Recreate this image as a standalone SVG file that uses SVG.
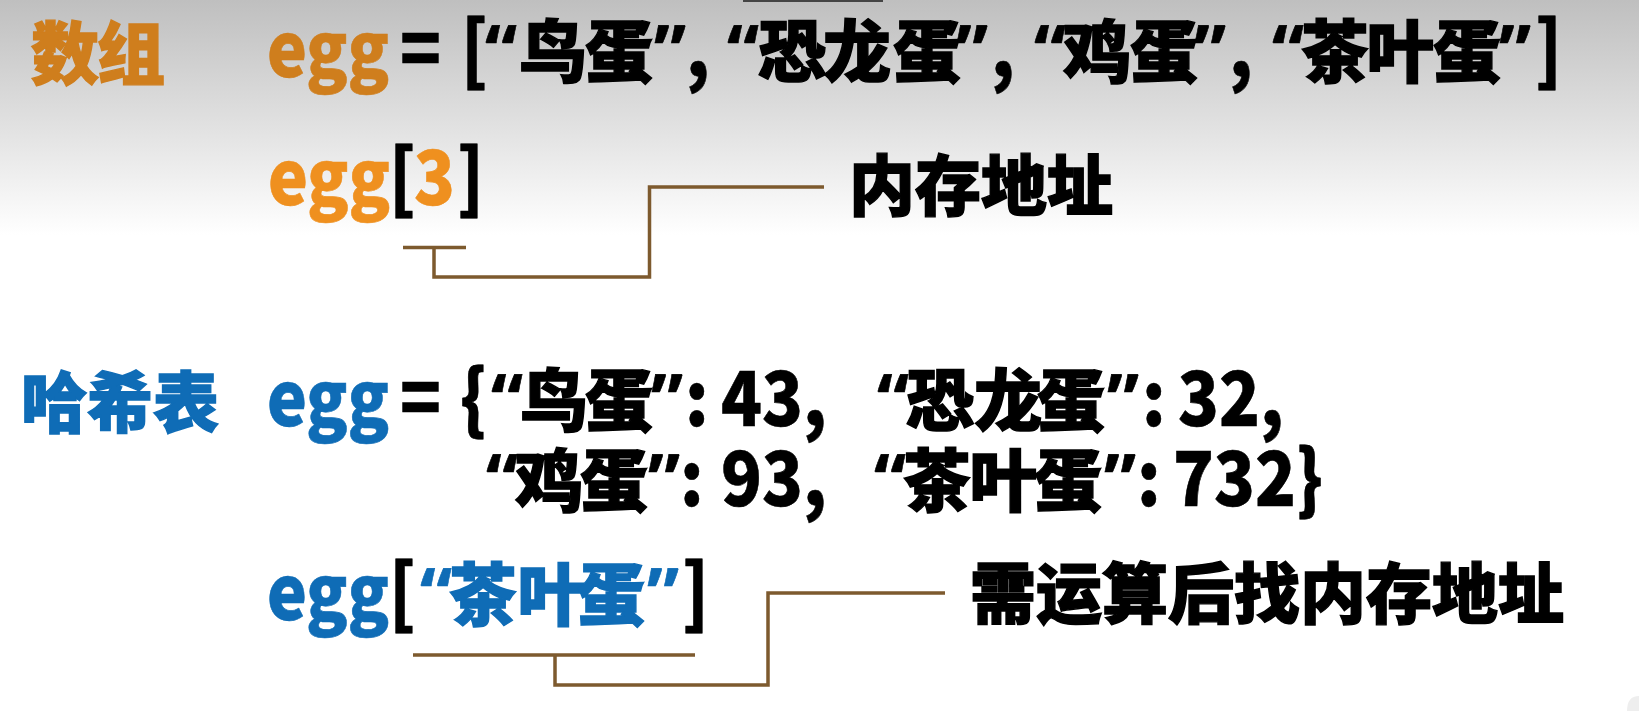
<svg xmlns="http://www.w3.org/2000/svg" width="1639" height="711" viewBox="0 0 1639 711">
<defs>
<linearGradient id="bg" x1="0" y1="0" x2="0" y2="1">
<stop offset="0" stop-color="#bfbfbf"/>
<stop offset="0.55" stop-color="#e2e2e2"/>
<stop offset="1" stop-color="#ffffff"/>
</linearGradient>
<style>
text{font-family:"Noto Sans CJK SC","Liberation Sans",sans-serif;font-weight:900}
.cn{font-size:68px;stroke-width:1.4}
.nt{font-size:66px;stroke-width:1.4}
.lt{font-size:76px;stroke-width:0.6}
.qf{font-family:"Noto Sans","Liberation Sans",sans-serif;font-weight:700;font-size:72px;stroke-width:0.6}
.k{fill:#000;stroke:#000}
.o1{fill:#cf7e1d;stroke:#cf7e1d}
.o2{fill:#ef901f;stroke:#ef901f}
.b{fill:#0f6cb6;stroke:#0f6cb6}
.conn{fill:none;stroke:#7d5a2e;stroke-width:3.5}
</style>
</defs>
<rect x="0" y="0" width="1639" height="711" fill="#fff"/>
<rect x="0" y="0" width="1639" height="235" fill="url(#bg)"/>
<rect x="743" y="0" width="140" height="2" fill="#444"/>
<path d="M1639 696 Q1627 696 1627 711 L1639 711 Z" fill="#eeeeee"/>

<g id="label-array"><text class="cn o1" x="31 97" y="79">数组</text></g>

<g id="array-line">
<text class="lt o1" transform="translate(267 77) scale(.886 1)">egg</text>
<text class="lt k" transform="translate(400 77) scale(.886 1)">=</text>
<text class="lt k" transform="translate(461 77) scale(.886 1)">[</text>
<text class="cn k" y="77"><tspan class="qf" x="485">“</tspan><tspan x="519 585">鸟蛋</tspan><tspan class="qf" x="654">”</tspan></text>
<text class="lt k" transform="translate(686 77) scale(.886 1)">,</text>
<text class="cn k" y="77"><tspan class="qf" x="727">“</tspan><tspan x="758 823 893">恐龙蛋</tspan><tspan class="qf" x="956">”</tspan></text>
<text class="lt k" transform="translate(991 77) scale(.886 1)">,</text>
<text class="cn k" y="77"><tspan class="qf" x="1034">“</tspan><tspan x="1063 1130">鸡蛋</tspan><tspan class="qf" x="1194">”</tspan></text>
<text class="lt k" transform="translate(1229 77) scale(.886 1)">,</text>
<text class="cn k" y="77"><tspan class="qf" x="1272">“</tspan><tspan x="1301 1366 1433">茶叶蛋</tspan><tspan class="qf" x="1499">”</tspan></text>
<text class="lt k" transform="translate(1535 77) scale(.886 1)">]</text>
</g>

<g id="array-index">
<text class="lt o2" transform="translate(268 205) scale(.886 1)">egg</text>
<text class="lt k" transform="translate(389 205) scale(.886 1)">[</text>
<text class="lt o2" transform="translate(414 205) scale(.886 1)">3</text>
<text class="lt k" transform="translate(457 205) scale(.886 1)">]</text>
</g>

<g id="array-note"><text class="nt k" x="849" y="210">内存地址</text></g>

<g id="label-hash"><text class="nt b" x="21" y="427">哈希表</text></g>

<g id="hash-line">
<text class="lt b" transform="translate(267 426) scale(.886 1)">egg</text>
<text class="lt k" transform="translate(400 426) scale(.886 1)">=</text>
<text class="lt k" transform="translate(460 426) scale(.886 1)">{</text>
<text class="cn k" y="426"><tspan class="qf" x="491">“</tspan><tspan x="520 585">鸟蛋</tspan><tspan class="qf" x="651">”</tspan></text>
<text class="lt k" transform="translate(685 426) scale(.886 1)">:</text>
<text class="lt k" transform="translate(721 426) scale(.886 1)">43,</text>
<text class="cn k" y="426"><tspan class="qf" x="877">“</tspan><tspan x="906 974 1037">恐龙蛋</tspan><tspan class="qf" x="1107">”</tspan></text>
<text class="lt k" transform="translate(1142 426) scale(.886 1)">:</text>
<text class="lt k" transform="translate(1178 426) scale(.886 1)">32,</text>
<text class="cn k" y="506"><tspan class="qf" x="486">“</tspan><tspan x="515 580">鸡蛋</tspan><tspan class="qf" x="648">”</tspan></text>
<text class="lt k" transform="translate(680 506) scale(.886 1)">:</text>
<text class="lt k" transform="translate(721 506) scale(.886 1)">93,</text>
<text class="cn k" y="506"><tspan class="qf" x="874">“</tspan><tspan x="903 969 1034">茶叶蛋</tspan><tspan class="qf" x="1104">”</tspan></text>
<text class="lt k" transform="translate(1137 506) scale(.886 1)">:</text>
<text class="lt k" transform="translate(1173 506) scale(.886 1)">732}</text>
</g>

<g id="hash-index">
<text class="lt b" transform="translate(267 620) scale(.886 1)">egg</text>
<text class="lt k" transform="translate(389 620) scale(.886 1)">[</text>
<text class="cn b" y="620"><tspan class="qf" x="420">“</tspan><tspan x="449 517 577">茶叶蛋</tspan><tspan class="qf" x="647">”</tspan></text>
<text class="lt k" transform="translate(682 620) scale(.886 1)">]</text>
</g>

<g id="hash-note"><text class="nt k" x="970" y="618">需运算后找内存地址</text></g>

<g id="connectors">
<path class="conn" d="M403 247.5 H466 M434 247.5 V277 H649.5 V187 H824"/>
<path class="conn" d="M413 655 H695 M555 655 V685 H768 V593 H945"/>
</g>
</svg>
